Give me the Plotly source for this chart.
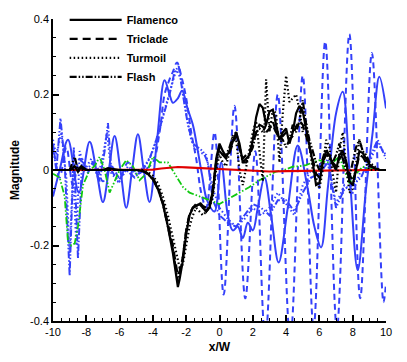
import plotly.graph_objects as go

# black curves share one x grid
x_black = [-10, -9, -8.7, -8.5, -8.3, -8.0, -7.0, -6.7, -6.0, -5.0,
           -4.6, -4.3, -4.0, -3.7, -3.4, -3.1, -2.8, -2.6, -2.5, -2.4,
           -2.2, -2.0, -1.8, -1.6, -1.4, -1.2, -1.0, -0.8, -0.6, -0.4, -0.2,
           0.0, 0.2, 0.4, 0.6, 0.8, 1.0, 1.2, 1.4, 1.6, 1.8,
           2.0, 2.2, 2.4, 2.6, 2.8, 3.0, 3.2, 3.4, 3.6, 3.8,
           4.0, 4.2, 4.4, 4.6, 4.8, 5.0, 5.2, 5.4, 5.6, 5.8,
           6.0, 6.2, 6.4, 6.6, 6.8, 7.0, 7.2, 7.4, 7.6, 7.8,
           8.0, 8.2, 8.4, 8.6, 8.8, 9.0, 9.3, 9.6, 10.0]

flamenco = [0, 0, 0.01, -0.005, 0.01, 0, 0, 0.005, 0, 0,
            -0.003, -0.01, -0.025, -0.05, -0.09, -0.15, -0.22, -0.28, -0.31, -0.29,
            -0.24, -0.17, -0.12, -0.1, -0.095, -0.09, -0.1, -0.11, -0.1, -0.06, 0.03,
            0.07, 0.05, 0.035, 0.05, 0.075, 0.1, 0.07, 0.02, 0.03, 0.04,
            0.08, 0.14, 0.175, 0.165, 0.12, 0.155, 0.16, 0.12, 0.08, 0.1,
            0.11, 0.07, 0.1, 0.15, 0.17, 0.155, 0.11, 0.06, 0.02, -0.04,
            -0.035, 0.02, 0.05, 0.04, 0.015, 0.0, 0.04, 0.05, 0.025, -0.03,
            -0.04, 0.0, 0.05, 0.045, 0.03, 0.015, 0.005, 0.0, 0.0]

triclade = [0, 0, 0.005, 0, 0.008, 0, 0, 0, 0, 0,
            -0.003, -0.01, -0.022, -0.045, -0.085, -0.14, -0.2, -0.255, -0.28, -0.27,
            -0.23, -0.16, -0.115, -0.1, -0.09, -0.085, -0.095, -0.1, -0.095, -0.05, 0.02,
            0.06, 0.04, 0.03, 0.045, 0.07, 0.09, 0.06, 0.03, 0.04, 0.05,
            0.07, 0.1, 0.12, 0.115, 0.1, 0.11, 0.12, 0.1, 0.085, 0.09,
            0.1, 0.08, 0.09, 0.115, 0.13, 0.12, 0.09, 0.06, 0.03, -0.01,
            -0.02, 0.02, 0.04, 0.035, 0.02, 0.01, 0.03, 0.04, 0.02, -0.01,
            -0.03, 0.0, 0.04, 0.035, 0.02, 0.01, 0.005, 0.0, 0.0]

turmoil = [0, 0, 0.0, 0.01, 0, 0, 0, 0, 0, 0,
           0, -0.005, -0.015, -0.035, -0.07, -0.12, -0.18, -0.225, -0.245, -0.258,
           -0.25, -0.2, -0.15, -0.12, -0.1, -0.11, -0.12, -0.11, -0.1, -0.07, 0.0,
           0.04, 0.02, 0.01, 0.05, 0.09, 0.08, 0.0, -0.04, 0.01, 0.05,
           0.1, 0.13, 0.05, -0.03, 0.24, 0.1, 0.16, 0.15, 0.02, 0.15,
           0.25, 0.18, 0.19, 0.2, 0.16, 0.1, 0.13, 0.07, 0.0, -0.02,
           -0.05, 0.0, 0.08, 0.06, -0.01, -0.06, 0.05, 0.1, 0.02, -0.06,
           -0.05, 0.02, 0.08, 0.05, 0.02, 0.0, 0.0, 0.0, 0.0]

flash = [0, 0, 0.035, 0, 0.005, 0, 0, 0, 0, 0,
         -0.002, -0.01, -0.025, -0.05, -0.09, -0.15, -0.21, -0.27, -0.295, -0.28,
         -0.23, -0.16, -0.12, -0.1, -0.095, -0.09, -0.1, -0.11, -0.095, -0.055, 0.02,
         0.05, 0.04, 0.04, 0.06, 0.09, 0.1, 0.06, 0.02, 0.02, 0.04,
         0.06, 0.1, 0.11, 0.1, 0.12, 0.12, 0.13, 0.1, 0.09, 0.08,
         0.06, 0.08, 0.12, 0.1, 0.13, 0.185, 0.12, 0.08, 0.05, 0.02,
         0.0, 0.03, 0.06, 0.03, 0.02, 0.04, 0.07, 0.03, 0.0, -0.02,
         0.02, 0.06, 0.08, 0.05, 0.04, 0.02, 0.01, 0.0, 0.0]

# blue curves
x_blue_solid = [-10, -9.6, -9.1, -8.45, -7.8, -7.4, -7.0, -6.65, -6.3, -5.95,
                -5.6, -5.25, -4.9, -4.55, -4.2, -3.75, -3.3, -3.0, -2.8, -2.5,
                -2.25, -1.9, -1.6, -1.3, -1.05, -0.75, -0.3, 0.1, 0.5, 0.8,
                1.1, 1.4, 1.7, 2.0, 2.3, 2.7, 3.1, 3.55, 4.1, 4.7,
                5.3, 5.7, 6.1, 6.5, 7.0, 7.4, 7.8, 8.3, 8.8, 9.2,
                9.6, 10]
blue_solid = [-0.07, 0.0, 0.08, -0.06, 0.075, 0.0, -0.085, 0.0, 0.09, 0.0,
              -0.1, 0.0, 0.095, 0.0, -0.085, 0.08, 0.238, 0.2, 0.178, 0.19,
              0.21, 0.16, 0.12, 0.05, -0.013, -0.08, -0.11, 0.02, -0.12, -0.16,
              -0.15, -0.18, -0.14, -0.16, -0.1, -0.02, -0.12, -0.245, -0.1, 0.065,
              -0.05, -0.15, -0.205, -0.05, 0.15, 0.207, 0.0, -0.265, -0.05, 0.1,
              0.247, 0.163]

x_blue_dash = [-10, -9.6, -9.2, -8.8, -8.4, -8.0, -7.5, -7.0, -6.5, -6.0,
               -5.5, -5.0, -4.5, -4.0, -3.6, -3.3, -3.0, -2.8, -2.55, -2.3,
               -2.0, -1.7, -1.4, -1.1, -0.8, -0.3, 0.25, 0.9, 1.55, 2.15,
               2.75, 3.5, 4.25, 5.0, 5.65, 6.35, 7.05, 7.8, 8.45, 9.15,
               9.85, 10]
blue_dash = [0.07, -0.02, 0.06, -0.04, 0.03, -0.01, 0.02, -0.03, 0.01, -0.02,
             0.02, -0.01, 0.0, 0.02, 0.1, 0.2, 0.24, 0.26, 0.285, 0.25,
             0.19, 0.1, 0.03, -0.06, -0.1, 0.1, -0.33, 0.17, -0.34, 0.05,
             -0.45, 0.2, -0.45, 0.25, -0.42, 0.34, -0.42, 0.36, -0.34, 0.31,
             -0.35, -0.3]

x_blue_dot = [-10, -9.8, -9.5, -9.2, -9.0, -8.8, -8.6, -8.4, -8.1, -7.7,
              -7.3, -7.0, -6.75, -6.5, -6.0, -5.5, -5.0, -4.5, -4.1, -3.7,
              -3.3, -2.9, -2.6, -2.3, -2.0, -1.7, -1.4, -1.1, -0.8, -0.4,
              0.0, 0.5, 1.0, 1.5, 2.0, 2.5, 3.0, 3.5, 4.0, 4.5,
              5.0, 5.5, 6.0, 6.5, 7.0, 7.5, 8.0, 8.5, 9.0, 9.5, 10]
blue_dot = [0.08, 0.04, 0.1, -0.02, -0.22, 0.0, -0.2, 0.05, 0.0, 0.03,
            -0.02, 0.04, 0.1, -0.01, -0.03, 0.01, -0.01, 0.01, 0.04, 0.09,
            0.16, 0.22, 0.265, 0.24, 0.15, 0.08, 0.05, 0.045, 0.04, -0.05,
            -0.1, -0.13, -0.15, -0.13, -0.1, -0.12, -0.1, -0.06, -0.09, -0.12,
            -0.04, 0.0, -0.02, 0.03, -0.09, -0.04, -0.06, 0.0, 0.02, 0.07, 0.04]

x_blue_dd = [-10, -9.8, -9.55, -9.3, -9.0, -8.75, -8.5, -8.25, -8.0, -7.6,
             -7.2, -6.9, -6.7, -6.5, -6.1, -5.6, -5.1, -4.6, -4.2, -3.8,
             -3.4, -3.0, -2.7, -2.45, -2.2, -1.9, -1.6, -1.3, -1.0, -0.7,
             -0.4, 0.0, 0.5, 1.0, 1.5, 2.0, 2.5, 3.0, 3.5, 4.0,
             4.5, 5.0, 5.5, 6.0, 6.5, 7.0, 7.5, 8.0, 8.5, 9.0, 9.5, 10]
blue_dd = [0.06, 0.0, 0.137, 0.02, -0.28, 0.06, -0.235, 0.03, 0.0, 0.02,
           -0.03, 0.05, 0.124, 0.0, -0.03, 0.0, -0.02, 0.0, 0.03, 0.08,
           0.14, 0.2, 0.26, 0.275, 0.2, 0.12, 0.07, 0.06, 0.05, 0.02,
           -0.08, -0.12, -0.14, -0.15, -0.12, -0.09, -0.1, -0.12, -0.08, -0.08,
           -0.11, -0.06, -0.02, -0.01, 0.02, -0.1, -0.05, -0.04, -0.02, 0.03, 0.08, 0.03]

x_green = [-10, -9.6, -9.3, -9.1, -8.9, -8.7, -8.5, -8.2, -7.8, -7.5,
           -7.2, -6.9, -6.6, -6.3, -6.0, -5.6, -5.2, -4.8, -4.4, -4.0,
           -3.6, -3.1, -2.7, -2.2, -1.8, -1.2, -0.6, 0.0, 0.6, 1.0,
           1.4, 1.8, 2.4, 2.9, 3.4, 3.9, 4.4, 4.8, 5.2, 5.6,
           6.0, 6.4, 6.8, 7.2, 7.5, 7.8, 8.2, 8.6, 9.0, 9.5, 10]
green = [-0.01, -0.02, -0.07, -0.19, -0.2, -0.195, -0.15, -0.04, 0.0, 0.01,
         0.035, 0.0, -0.06, -0.03, 0.0, 0.026, 0.01, -0.027, -0.01, 0.035,
         0.02, 0.02, -0.01, -0.045, -0.06, -0.07, -0.08, -0.09, -0.075, -0.065,
         -0.053, -0.045, -0.027, -0.015, -0.004, 0.0, 0.009, 0.01, 0.013, 0.02,
         0.026, 0.02, 0.02, 0.035, 0.0, -0.035, -0.01, 0.009, 0.003, 0.0, 0.0]

x_red = [-10, -5, -4, -3.5, -3, -2.5, -2, -1.5, -1, -0.5, 0, 0.5, 1, 2, 3, 4, 5, 6, 7, 8, 9, 10]
red = [0, 0, 0.001, 0.004, 0.006, 0.008, 0.007, 0.006, 0.005, 0.004, 0.003,
       0.002, 0.0, -0.003, -0.004, -0.003, -0.002, -0.001, 0.0, 0.0, 0.0, 0]

x_ticks = [-10, -8, -6, -4, -2, 0, 2, 4, 6, 8, 10]
x_labels = ["-10", "-8", "-6", "-4", "-2", "0", "2", "4", "6", "8", "10"]
y_ticks = [-0.4, -0.2, 0, 0.2, 0.4]
y_labels = ["-0.4", "-0.2", "0", "0.2", "0.4"]

BLUE = "#3440fa"
DASH = "6px,4px"
DOT = "1.5px,2.5px"
DASHDOTDOT = "7px,2px,1.5px,2px,1.5px,2px"

fig = go.Figure()

blues = [(x_blue_dd, blue_dd, DASHDOTDOT, "linear"),
         (x_blue_dot, blue_dot, DOT, "linear"),
         (x_blue_dash, blue_dash, DASH, "spline"),
         (x_blue_solid, blue_solid, "solid", "spline")]
for xs, ys, dash, shape in blues:
    fig.add_trace(go.Scatter(x=xs, y=ys, mode="lines", showlegend=False,
                             line=dict(color=BLUE, width=2, dash=dash, shape=shape)))

fig.add_trace(go.Scatter(x=x_green, y=green, mode="lines", showlegend=False,
                         line=dict(color="#10c810", width=1.8, dash=DASHDOTDOT)))
fig.add_trace(go.Scatter(x=x_red, y=red, mode="lines", showlegend=False,
                         line=dict(color="#e00000", width=2.2)))

blacks = [("Flamenco", flamenco, "solid"), ("Triclade", triclade, "8px,5px"),
          ("Turmoil", turmoil, DOT), ("Flash", flash, DASHDOTDOT)]
for name, ys, dash in blacks:
    fig.add_trace(go.Scatter(x=x_black, y=ys, mode="lines", name=name,
                             line=dict(color="black", width=2.2, dash=dash)))

axis_common = dict(showline=True, linecolor="black", linewidth=1.5, mirror=False,
                   ticks="inside", ticklen=6, tickwidth=1.5, tickcolor="black",
                   showgrid=False, zeroline=False, automargin=False,
                   tickfont=dict(family="Liberation Sans", size=11, color="black"))

fig.update_xaxes(range=[-10, 10], tickvals=x_ticks, ticktext=x_labels,
                 minor=dict(ticks="inside", ticklen=3, dtick=0.5, tickcolor="black", tickwidth=1),
                 title=dict(text="<b>x/W</b>",
                            font=dict(family="Liberation Sans", size=12, color="black")),
                 **axis_common)
fig.update_yaxes(range=[-0.4, 0.4], tickvals=y_ticks, ticktext=y_labels,
                 minor=dict(ticks="inside", ticklen=3, dtick=0.05, tickcolor="black", tickwidth=1),
                 title=dict(text="<b>Magnitude</b>",
                            font=dict(family="Liberation Sans", size=12, color="black")),
                 **axis_common)

# the page body has an 8px margin, so the figure is sized to fit inside it
fig.update_layout(
    width=391, height=346,
    margin=dict(l=45, r=13, t=11, b=33, autoexpand=False),
    plot_bgcolor="white", paper_bgcolor="white",
    legend=dict(x=0.035, y=1.045, xanchor="left", yanchor="top",
                bgcolor="rgba(0,0,0,0)", itemwidth=52, tracegroupgap=0,
                font=dict(family="Liberation Sans", size=11, color="black", weight="bold")),
)

fig.write_html("out.html")
